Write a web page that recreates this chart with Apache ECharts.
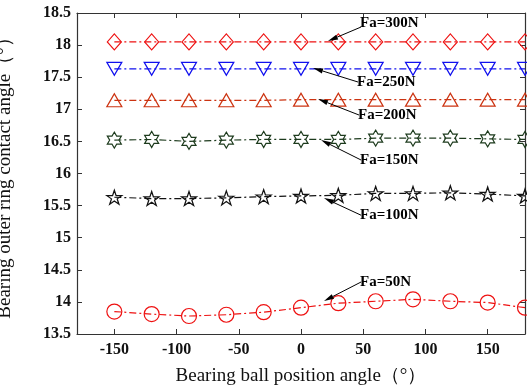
<!DOCTYPE html>
<html><head><meta charset="utf-8">
<script src="https://cdn.jsdelivr.net/npm/echarts@6/dist/echarts.min.js"></script>
<style>html,body{margin:0;padding:0;background:#fff}#c{width:527px;height:389px}</style>
</head><body><div id="c"></div>
<script>
var positions = [-150,-120,-90,-60,-30,0,30,60,90,120,150,180];
var xTickLabels = [-150,-100,-50,0,50,100,150];
var fa300 = [18.05,18.05,18.05,18.05,18.05,18.05,18.05,18.05,18.05,18.05,18.05,18.05];
var fa250 = [17.63,17.63,17.63,17.63,17.63,17.63,17.63,17.63,17.63,17.63,17.63,17.63];
var fa200 = [17.14,17.14,17.14,17.14,17.14,17.15,17.15,17.15,17.15,17.15,17.15,17.15];
var fa150 = [16.52,16.53,16.50,16.52,16.53,16.53,16.53,16.55,16.55,16.55,16.54,16.53];
var fa100 = [15.63,15.61,15.61,15.62,15.64,15.65,15.66,15.69,15.69,15.70,15.68,15.65];
var fa50  = [13.85,13.81,13.78,13.80,13.84,13.91,13.98,14.01,14.04,14.01,13.99,13.91];
var seriesNames = ['Fa=300N','Fa=250N','Fa=200N','Fa=150N','Fa=100N','Fa=50N'];
// annotation arrows: [label, tip(x,y), tail(x,y)] in data units
var annLabels = ['Fa=300N','Fa=250N','Fa=200N','Fa=150N','Fa=100N','Fa=50N'];
var annTips  = [[21.7,18.064],[9.7,17.643],[13.7,17.16],[16.1,16.522],[18.5,15.618],[18.5,14.014]];
var annTails = [[48.3,18.282],[45.8,17.425],[46.6,16.911],[48.3,16.21],[48.3,15.35],[48.3,14.31]];

var FONT = "'Liberation Serif','Times New Roman',serif";
var hexPath = 'path://M10,0 L12.89,5 L18.66,5 L15.77,10 L18.66,15 L12.89,15 L10,20 L7.11,15 L1.34,15 L4.23,10 L1.34,5 L7.11,5 Z';
var starPath = 'path://M10,0 L12.25,6.91 L19.51,6.91 L13.63,11.18 L15.88,18.09 L10,13.82 L4.12,18.09 L6.37,11.18 L0.49,6.91 L7.75,6.91 Z';
var dashDot = [7,3,2,3];

function mk(name, vals, color, symbol, size) {
  return {
    name: name, type: 'line',
    data: positions.map(function(p,i){return [p, vals[i]];}),
    symbol: symbol, symbolSize: size, showAllSymbol: true,
    lineStyle: {color: color, width: 1.2, type: dashDot},
    itemStyle: {color: 'rgba(0,0,0,0)', borderColor: color, borderWidth: 1.2},
    emphasis: {disabled: true}, animation: false, z: 3
  };
}

var chart = echarts.init(document.getElementById('c'), null, {renderer: 'canvas'});
var axisLine = {show: true, onZero: false, lineStyle: {color: '#333', width: 1.2}};
var option = {
  animation: false,
  backgroundColor: '#fff',
  grid: {left: 77, right: 2, top: 13, bottom: 55, containLabel: false, outerBoundsMode: 'none'},
  xAxis: [{
    type: 'value', min: -180, max: 180,
    name: 'Bearing ball position angle（°）', nameLocation: 'middle', nameGap: 33,
    nameTextStyle: {fontFamily: FONT, fontSize: 19, color: '#111'},
    axisLine: axisLine,
    axisTick: {show: true, inside: true, length: 5, customValues: xTickLabels, lineStyle: {color: '#333'}},
    axisLabel: {customValues: xTickLabels, fontFamily: FONT, fontSize: 16, fontWeight: 'bold', color: '#111', margin: 8},
    splitLine: {show: false}
  }, {
    type: 'value', min: -180, max: 180, position: 'top',
    axisLine: axisLine,
    axisTick: {show: true, inside: true, length: 5, customValues: xTickLabels, lineStyle: {color: '#333'}},
    axisLabel: {show: false}, splitLine: {show: false}
  }],
  yAxis: [{
    type: 'value', min: 13.5, max: 18.5, interval: 0.5,
    name: 'Bearing outer ring contact angle（°）', nameLocation: 'middle', nameGap: 62,
    nameTextStyle: {fontFamily: FONT, fontSize: 19, color: '#111'},
    axisLine: axisLine,
    axisTick: {show: true, inside: true, length: 5, lineStyle: {color: '#333'}},
    axisLabel: {fontFamily: FONT, fontSize: 16, fontWeight: 'bold', color: '#111', margin: 6},
    splitLine: {show: false}
  }, {
    type: 'value', min: 13.5, max: 18.5, interval: 0.5, position: 'right',
    axisLine: axisLine,
    axisTick: {show: true, inside: true, length: 5, lineStyle: {color: '#333'}},
    axisLabel: {show: false}, splitLine: {show: false}
  }],
  series: [
    mk(seriesNames[0], fa300, '#ee1111', 'diamond', [14,16]),
    mk(seriesNames[1], fa250, '#1010ee', 'path://M0,0 L10,0 L5,9 Z', [15,13]),
    mk(seriesNames[2], fa200, '#cc3311', 'triangle', [15,13]),
    mk(seriesNames[3], fa150, '#1c3a1c', hexPath, [14,16]),
    mk(seriesNames[4], fa100, '#111111', starPath, [15,14]),
    mk(seriesNames[5], fa50, '#ee1111', 'circle', 15)
  ]
};
chart.setOption(option);

var g = [];
for (var i = 0; i < annLabels.length; i++) {
  var tip = chart.convertToPixel({gridIndex: 0}, annTips[i]);
  var tail = chart.convertToPixel({gridIndex: 0}, annTails[i]);
  var dx = tip[0] - tail[0], dy = tip[1] - tail[1];
  var L = Math.sqrt(dx*dx + dy*dy), ux = dx / L, uy = dy / L;
  var hl = 10, hw = 2.6;
  var bx = tip[0] - ux*hl, by = tip[1] - uy*hl;
  g.push({type: 'line', shape: {x1: tail[0], y1: tail[1], x2: bx, y2: by}, style: {stroke: '#000', lineWidth: 1}, z: 10});
  g.push({type: 'polygon', shape: {points: [[tip[0], tip[1]], [bx - uy*hw, by + ux*hw], [bx + uy*hw, by - ux*hw]]}, style: {fill: '#000'}, z: 10});
  g.push({type: 'text', x: tail[0] - 1, y: tail[1] + (i === 0 ? -4 : 0),
    style: {text: annLabels[i], font: 'bold 15px ' + FONT, fill: '#000', textAlign: 'left', textVerticalAlign: 'middle'}, z: 11});
}
chart.setOption({graphic: g});
</script></body></html>
